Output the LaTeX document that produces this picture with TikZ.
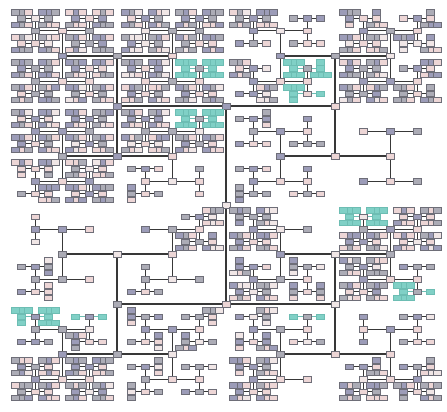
\documentclass[tikz,border=0pt]{standalone}
\definecolor{cB}{HTML}{9C9CB8}
\definecolor{cG}{HTML}{ACACB6}
\definecolor{cP}{HTML}{EDD6D6}
\definecolor{cL}{HTML}{F0E6E6}
\definecolor{cT}{HTML}{80D0C6}
\definecolor{cTd}{HTML}{6DBDB3}
\definecolor{bd}{HTML}{6E6E78}
\definecolor{ed}{HTML}{383838}
\definecolor{edt}{HTML}{6DBDB3}
\tikzset{hb/.style={rectangle,line width=0.5pt,minimum width=8pt,minimum height=5.5pt,inner sep=0pt,outer sep=0pt}}
% offsets per level
\expandafter\def\csname off1\endcsname{99}
\expandafter\def\csname off2\endcsname{109}
\expandafter\def\csname off3\endcsname{50}
\expandafter\def\csname off4\endcsname{55}
\expandafter\def\csname off5\endcsname{25}
\expandafter\def\csname off6\endcsname{27}
\expandafter\def\csname off7\endcsname{12.5}
\expandafter\def\csname off8\endcsname{13.5}
\expandafter\def\csname off9\endcsname{6.25}
\expandafter\def\csname off10\endcsname{6.75}
% line widths per level
\expandafter\def\csname lw1\endcsname{1.3}
\expandafter\def\csname lw2\endcsname{1.3}
\expandafter\def\csname lw3\endcsname{1.2}
\expandafter\def\csname lw4\endcsname{1.2}
\expandafter\def\csname lw5\endcsname{1.0}
\expandafter\def\csname lw6\endcsname{1.0}
\expandafter\def\csname lw7\endcsname{0.9}
\expandafter\def\csname lw8\endcsname{0.9}
\expandafter\def\csname lw9\endcsname{0.8}
\expandafter\def\csname lw10\endcsname{0.8}
% density codes: {maxlevel}{p7}{p8}
\expandafter\def\csname htcode0\endcsname{{6}{0}{0}}
\expandafter\def\csname htcode1\endcsname{{7}{0}{0}}
\expandafter\def\csname htcode15\endcsname{{8}{0.55}{0}}
\expandafter\def\csname htcode2\endcsname{{9}{0.9}{0.3}}
\expandafter\def\csname htcode25\endcsname{{9}{1}{0.65}}
\expandafter\def\csname htcode3\endcsname{{10}{1}{0.7}}
\expandafter\def\csname htcode35\endcsname{{10}{1}{0.86}}
\expandafter\def\csname htcode4\endcsname{{10}{1}{1}}
\newcommand\C[4]{\expandafter\edef\csname cell#1-#2\endcsname{\csname htcode#3\endcsname{#4}}}
\C{0}{0}{4}{0}\C{0}{1}{4}{0}\C{0}{2}{4}{0}\C{0}{3}{4}{0}\C{0}{4}{3}{0}\C{0}{5}{3}{0}\C{0}{6}{3}{0}\C{0}{7}{3}{0}
\C{1}{0}{4}{0}\C{1}{1}{4}{0}\C{1}{2}{4}{0}\C{1}{3}{4}{1}\C{1}{4}{3}{0}\C{1}{5}{3}{3}\C{1}{6}{4}{0}\C{1}{7}{35}{0}
\C{2}{0}{4}{0}\C{2}{1}{4}{0}\C{2}{2}{4}{0}\C{2}{3}{4}{1}\C{2}{4}{2}{0}\C{2}{5}{15}{0}\C{2}{6}{0}{0}\C{2}{7}{0}{0}
\C{3}{0}{3}{0}\C{3}{1}{3}{0}\C{3}{2}{25}{0}\C{3}{3}{1}{0}\C{3}{4}{25}{0}\C{3}{5}{15}{0}\C{3}{6}{0}{0}\C{3}{7}{0}{0}
\C{4}{0}{1}{0}\C{4}{1}{0}{0}\C{4}{2}{0}{0}\C{4}{3}{35}{0}\C{4}{4}{35}{0}\C{4}{5}{0}{0}\C{4}{6}{4}{1}\C{4}{7}{4}{0}
\C{5}{0}{2}{0}\C{5}{1}{0}{0}\C{5}{2}{15}{0}\C{5}{3}{0}{0}\C{5}{4}{35}{0}\C{5}{5}{25}{0}\C{5}{6}{35}{0}\C{5}{7}{35}{2}
\C{6}{0}{3}{1}\C{6}{1}{3}{1}\C{6}{2}{2}{0}\C{6}{3}{3}{0}\C{6}{4}{3}{0}\C{6}{5}{15}{1}\C{6}{6}{1}{0}\C{6}{7}{2}{0}
\C{7}{0}{4}{0}\C{7}{1}{4}{0}\C{7}{2}{25}{0}\C{7}{3}{15}{0}\C{7}{4}{3}{0}\C{7}{5}{0}{0}\C{7}{6}{3}{0}\C{7}{7}{3}{0}
\def\getcell#1#2#3#4{\def\maxlev{#1}\def\pseven{#2}\def\peight{#3}\def\tealflag{#4}}
\def\httealon{0}\def\maxlev{6}\def\pseven{0}\def\peight{0}\def\tealflag{0}
\def\htmode{0}
% #1 name, #2 x, #3 y, #4 level, #5 row, #6 col, #7 child index
% mode 0: invisible named nodes + connectors; mode 1: visible boxes
\newcommand\HT[7]{%
\begingroup
\pgfmathrnd\let\htr\pgfmathresult
\ifnum\httealon=1 \def\fc{cT}\def\dc{cTd}%
\else\def\dc{bd}%
 \ifnum#7=0
  \ifdim\htr pt<0.45pt \def\fc{cB}\else\ifdim\htr pt<0.78pt \def\fc{cG}\else\ifdim\htr pt<0.93pt \def\fc{cP}\else\def\fc{cL}\fi\fi\fi
 \else
  \ifdim\htr pt<0.1pt \def\fc{cB}\else\ifdim\htr pt<0.35pt \def\fc{cG}\else\ifdim\htr pt<0.82pt \def\fc{cP}\else\def\fc{cL}\fi\fi\fi
 \fi
\fi
\ifnum\htmode=0
 \node[hb] (#1) at (#2,#3) {};%
\else
 \node[hb,fill=\fc,draw=\dc] (#1) at (#2,#3) {};%
\fi
\def\htexp{0}%
\ifnum#4<6 \def\htexp{1}\fi
\ifnum#4=6
 \expandafter\expandafter\expandafter\getcell\csname cell#5-#6\endcsname
 \ifnum\maxlev>6 \def\htexp{1}\fi
\fi
\ifnum#4>6
 \ifnum#4<\maxlev\relax
   \pgfmathrnd
   \ifnum#4=7 \let\htp\pseven\else\let\htp\peight\fi
   \ifdim\pgfmathresult pt<\htp pt\def\htexp{1}\fi
 \fi
\fi
\ifnum#4=7
 \ifnum\tealflag=3 \def\httealon{1}\fi
 \ifnum\tealflag=\numexpr#7+1\relax \def\httealon{1}\fi
\fi
\ifnum\htexp=1
 \pgfmathtruncatemacro\htnl{#4+1}%
 \edef\hto{\csname off\htnl\endcsname}%
 \edef\htlw{\csname lw\htnl\endcsname}%
 \ifodd\htnl\relax
   \edef\xa{#2}\edef\xb{#2}%
   \pgfmathsetmacro\ya{#3-\hto}\pgfmathsetmacro\yb{#3+\hto}%
   \pgfmathtruncatemacro\ra{2*#5}\pgfmathtruncatemacro\rb{2*#5+1}%
   \edef\ca{#6}\edef\cb{#6}%
 \else
   \pgfmathsetmacro\xa{#2-\hto}\pgfmathsetmacro\xb{#2+\hto}%
   \edef\ya{#3}\edef\yb{#3}%
   \edef\ra{#5}\edef\rb{#5}%
   \pgfmathtruncatemacro\ca{2*#6}\pgfmathtruncatemacro\cb{2*#6+1}%
 \fi
 \edef\htnext{\noexpand\HT{#1a}{\xa}{\ya}{\htnl}{\ra}{\ca}{0}\noexpand\HT{#1b}{\xb}{\yb}{\htnl}{\rb}{\cb}{1}}%
 \htnext
 \ifnum\htmode=0
  \ifnum\httealon=1 \def\ec{edt}\else\def\ec{ed}\fi
  \draw[line width=\htlw pt,draw=\ec] (#1) -- (#1a) (#1) -- (#1b);
 \fi
\fi
\endgroup}
\begin{document}
\begin{tikzpicture}[x=1pt,y=-1pt]
\useasboundingbox (0,0) rectangle (447,412);
\fill[white] (0,0) rectangle (447,412);
\def\htmode{0}
\pgfmathsetseed{7}
\HT{r}{226}{205}{0}{0}{0}{1}
\def\htmode{1}
\pgfmathsetseed{7}
\HT{r}{226}{205}{0}{0}{0}{1}
\end{tikzpicture}
\end{document}
